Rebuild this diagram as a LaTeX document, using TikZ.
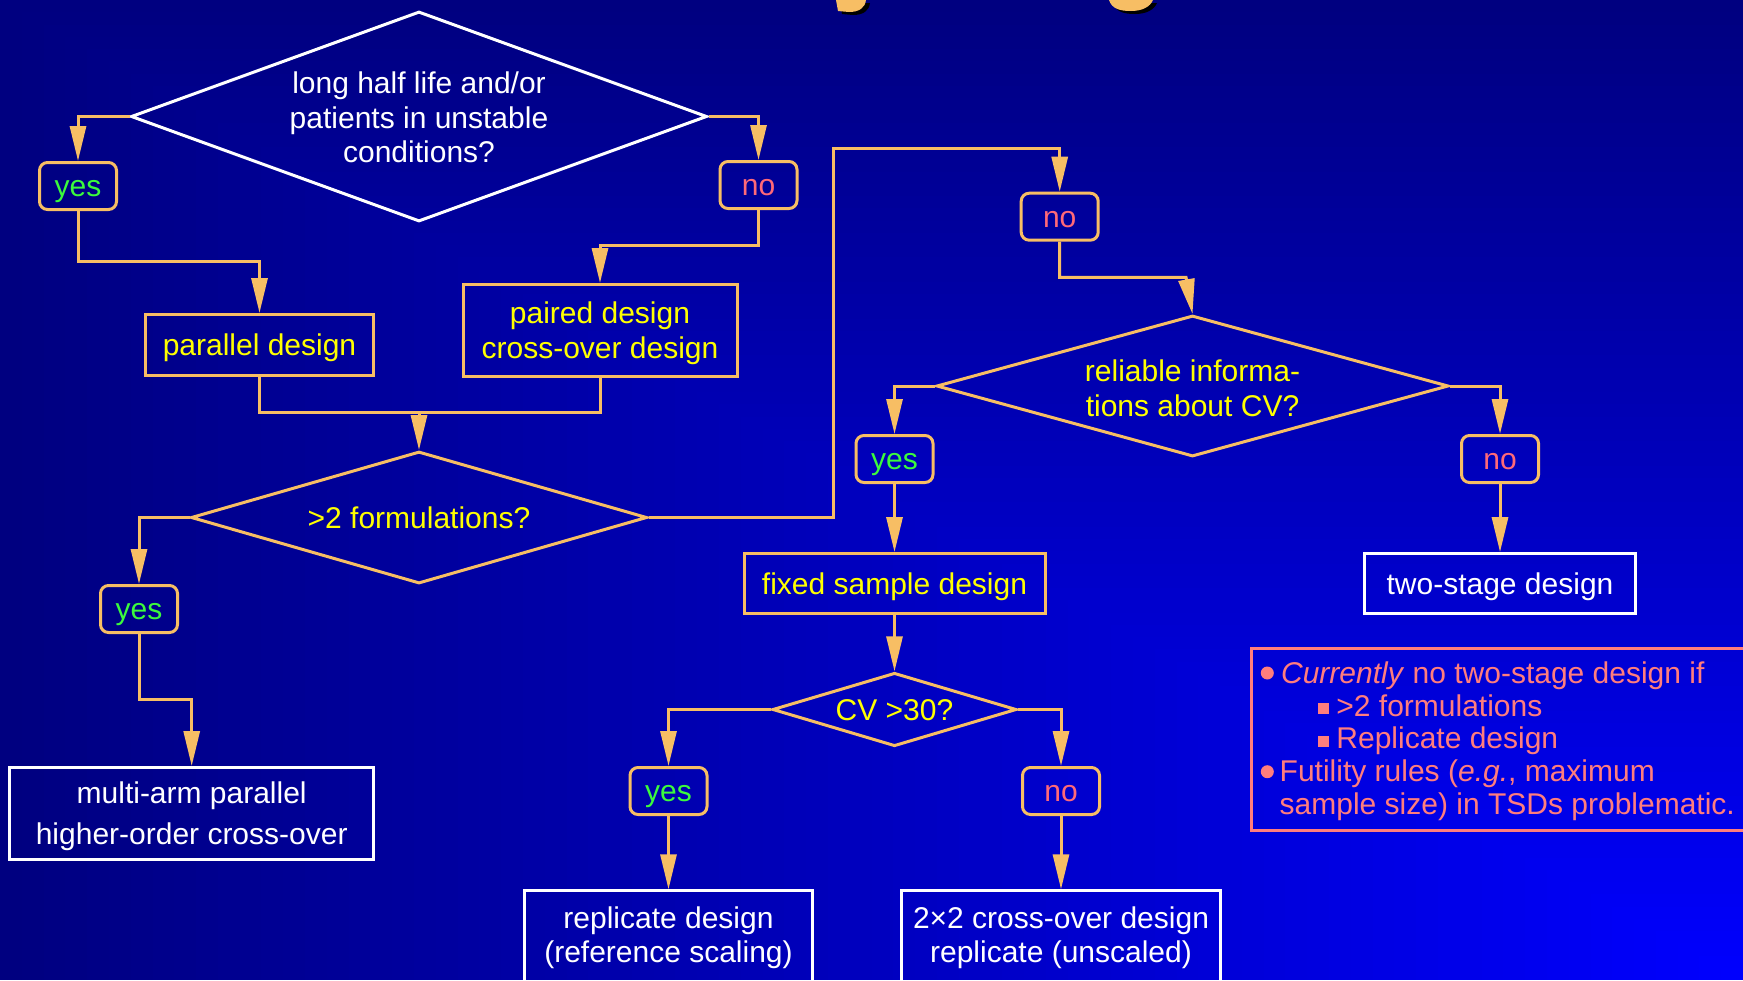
\documentclass[tikz,border=0pt]{standalone}
\usepackage{fontspec}
\setmainfont{Liberation Sans}
\usetikzlibrary{arrows.meta,shapes.geometric}
\definecolor{orangeline}{RGB}{247,190,100}
\definecolor{yestext}{RGB}{60,250,60}
\definecolor{notext}{RGB}{255,105,120}
\definecolor{notecol}{RGB}{255,125,125}
\definecolor{yellowtext}{RGB}{255,255,0}
\newcommand\topstrut[1]{\rule{0pt}{#1}}
\tikzset{
  txt/.style={font=\fontsize{15pt}{17.25pt}\selectfont, inner sep=0pt},
  oneline/.style={text height=14pt, text depth=3.25pt},
  conn/.style={draw=orangeline, line width=1.5pt, -{Triangle[length=17.5pt,width=8pt]}},
  linkline/.style={draw=orangeline, line width=1.5pt},
  ansbox/.style={txt, oneline, draw=orangeline, line width=1.5pt, rounded corners=4pt,
    minimum width=38.5pt, minimum height=23.5pt},
  yesbox/.style={ansbox, text=yestext},
  nobox/.style={ansbox, text=notext},
  designbox/.style={txt, draw=orangeline, line width=1.5pt, text=yellowtext, align=center},
  finalbox/.style={txt, draw=white, line width=1.5pt, text=white, align=center},
  decision/.style={txt, diamond, draw=orangeline, line width=1.5pt, text=yellowtext, align=center},
  notetxt/.style={txt, text=notecol},
}
\begin{document}
\begin{tikzpicture}[x=0.5pt,y=-0.5pt]
\useasboundingbox (0,0) rectangle (1743,980);
\clip (0,0) rectangle (1743,980);
% background: rectangular gradient from the bottom-right corner
\foreach \k in {80,79,...,1}{
  \pgfmathsetmacro\fx{1743*(1-\k/80)}
  \pgfmathsetmacro\fy{980*(1-\k/80)}
  \pgfmathsetmacro\pc{100-50*\k/80}
  \fill[blue!\pc!black] (\fx,\fy) rectangle (1743,980);
}
% fragments of the cut-off title
\begin{scope}[shift={(4,3)}]
  \fill[black] (836,0) -- (866,0) .. controls (865,8) and (859,12) .. (849,12) -- (838,11) -- cycle;
  \fill[black] (1109,0) .. controls (1112,9) and (1120,11) .. (1131,11) .. controls (1142,11) and (1150,7) .. (1153,0) -- cycle;
\end{scope}
\fill[orangeline] (836,0) -- (866,0) .. controls (865,8) and (859,12) .. (849,12) -- (838,11) -- cycle;
\fill[orangeline] (1109,0) .. controls (1112,9) and (1120,11) .. (1131,11) .. controls (1142,11) and (1150,7) .. (1153,0) -- cycle;

% nodes
\node[decision, draw=white, text=white, shape aspect=2.74, minimum width=288pt, minimum height=105pt] (d1) at (419,116.5)
  {\topstrut{12pt}long half life and/or\\patients in unstable\\conditions?};
\node[yesbox] (yes1) at (78,186) {yes};
\node[nobox] (no1) at (758.5,185) {no};
\node[designbox, oneline, minimum width=114pt, minimum height=30.5pt] (parallel) at (259.5,345) {parallel design};
\node[designbox, minimum width=137pt, minimum height=46pt] (paired) at (600,330.5) {\topstrut{13.5pt}paired design\\cross-over design};
\node[decision, oneline, shape aspect=3.45, minimum width=228pt, minimum height=66pt] (d2) at (419,517.5) {>2 formulations?};
\node[yesbox] (yes2) at (139,609) {yes};
\node[finalbox, font=\fontsize{15pt}{20.5pt}\selectfont, minimum width=182pt, minimum height=46pt] (multi) at (191.7,813.5)
  {\topstrut{14pt}multi-arm parallel\\higher-order cross-over};
\node[nobox] (no2) at (1059.7,216.7) {no};
\node[decision, shape aspect=3.63, minimum width=256pt, minimum height=70.5pt] (d3) at (1192.5,386) {\topstrut{13pt}reliable informa-\\tions about CV?};
\node[yesbox] (yes3) at (894.5,459) {yes};
\node[nobox] (no3) at (1500,459) {no};
\node[designbox, oneline, minimum width=150.5pt, minimum height=30pt] (fixed) at (894.5,583.6) {fixed sample design};
\node[finalbox, oneline, minimum width=135.5pt, minimum height=30pt] (twostage) at (1500,583.6) {two-stage design};
\node[decision, oneline, shape aspect=3.32, minimum width=122pt, minimum height=36.7pt] (d4) at (894.5,709.5) {CV >30?};
\node[yesbox] (yes4) at (668.5,791) {yes};
\node[nobox] (no4) at (1061,791) {no};
\node[finalbox, minimum width=144pt, minimum height=65pt, anchor=north] (replicate) at (668.5,889.3) {};
\node[txt, text=white, align=center] (repltext) at (668.5,937.5) {replicate design\\(reference scaling)};
\node[finalbox, minimum width=159.5pt, minimum height=65pt, anchor=north] (twobytwo) at (1061,889.3) {};
\node[txt, text=white, align=center] (twotext) at (1061,937.5) {2×2 cross-over design\\replicate (unscaled)};

% notes box
\node[draw=notecol, line width=1.5pt, minimum width=262pt, minimum height=91pt, inner sep=0pt, anchor=north west] (notes) at (1250,647) {};
\fill[notecol] (1267.3,673) circle (3.25pt);
\fill[notecol] (1267.3,771.7) circle (3.25pt);
\fill[notecol] (1318,702.5) rectangle (1329,713.5);
\fill[notecol] (1318,735.5) rectangle (1329,746.5);
\node[notetxt, anchor=base west] (n1) at (1280.7,683) {\textit{Currently} no two-stage design if};
\node[notetxt, anchor=base west] (n2) at (1336,716) {>2 formulations};
\node[notetxt, anchor=base west] (n3) at (1336,748.5) {Replicate design};
\node[notetxt, anchor=base west] (n4) at (1279.3,781.5) {Futility rules (\textit{e.g.}, maximum};
\node[notetxt, anchor=base west] (n5) at (1279.3,814) {sample size) in TSDs problematic.};

% connectors
\coordinate (merge) at (419,412.3);
\coordinate (up) at (833.4,148.3);
\coordinate (kink) at (1186,277.3);
\draw[conn] (d1.west) -| (yes1.north);
\draw[conn] (d1.east) -| (no1.north);
\draw[conn] (yes1.south) -- (yes1.south |- 0,261.7) -| (parallel.north);
\draw[conn] (no1.south) -- (no1.south |- 0,245) -| (paired.north);
\draw[linkline] (parallel.south) |- (merge) -| (paired.south);
\draw[conn] (merge) -- (d2.north);
\draw[conn] (d2.west) -| (yes2.north);
\draw[conn] (yes2.south) -- (yes2.south |- 0,699.3) -| (multi.north);
\draw[conn] (d2.east) -| (up) -| (no2.north);
\draw[conn] (no2.south) |- (kink) -- (d3.north);
\draw[conn] (d3.west) -| (yes3.north);
\draw[conn] (d3.east) -| (no3.north);
\draw[conn] (yes3.south) -- (fixed.north);
\draw[conn] (no3.south) -- (twostage.north);
\draw[conn] (fixed.south) -- (d4.north);
\draw[conn] (d4.west) -| (yes4.north);
\draw[conn] (d4.east) -| (no4.north);
\draw[conn] (yes4.south) -- (replicate.north);
\draw[conn] (no4.south) -- (twobytwo.north);
\end{tikzpicture}
\end{document}
